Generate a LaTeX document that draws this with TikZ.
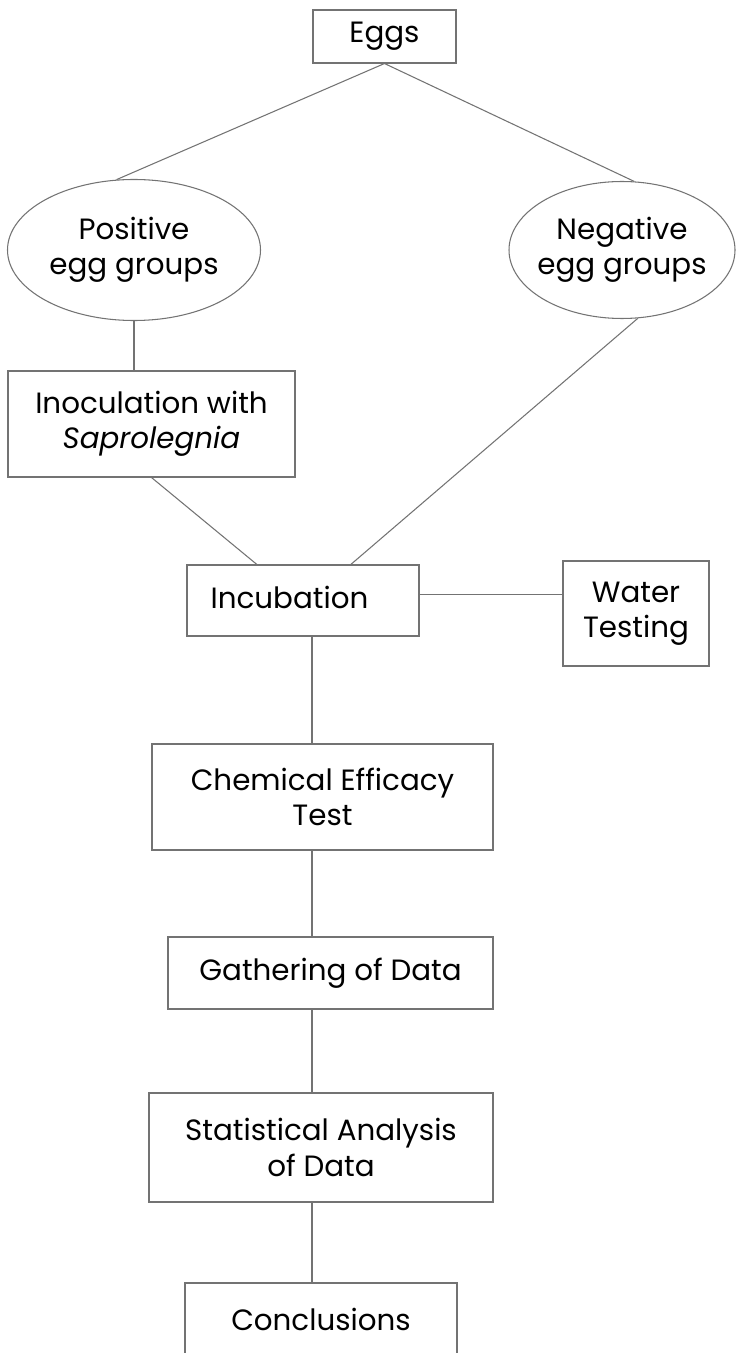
\documentclass[tikz,border=0pt]{standalone}
\usepackage{fontspec}
\setmainfont{Poppins}
\usetikzlibrary{shapes.geometric}
\definecolor{linegray}{gray}{0.45}
\tikzset{
	flowbox/.style={rectangle, draw=linegray, line width=0.6pt, align=center, inner sep=0pt, font=\fontsize{16.7}{20}\selectfont},
	groupnode/.style={ellipse, draw=linegray, line width=0.6pt, align=center, inner xsep=-0.4cm, inner ysep=0pt, font=\fontsize{16.7}{20}\selectfont},
	link/.style={draw=linegray, line width=0.6pt}
}

\begin{document}
\begin{tikzpicture}
			\useasboundingbox (0,0) rectangle (14.74,-27.06);
			\clip (0,0) rectangle (14.74,-27.06);
			\fill[white] (0,0) rectangle (14.74,-27.06);
			
			\node[flowbox, minimum width=2.86cm, minimum height=1.06cm] (eggs) at (7.69,-0.73) {Eggs};
			\node[groupnode, minimum width=5.06cm, minimum height=2.82cm] (pos) at (2.68,-5.00) {Positive\\egg groups};
			\node[groupnode, minimum width=4.52cm, minimum height=2.74cm] (neg) at (12.44,-5.00) {Negative\\egg groups};
			\node[flowbox, minimum width=5.74cm, minimum height=2.12cm] (inoc) at (3.03,-8.48) {Inoculation with\\\textit{Saprolegnia}};
			\node[flowbox, minimum width=4.64cm, minimum height=1.42cm] (incub) at (6.06,-12.01) {\raisebox{0.14cm}{Incubation}\hspace{0.54cm}};
			\node[flowbox, minimum width=2.92cm, minimum height=2.10cm] (water) at (12.72,-12.27) {Water\\Testing};
			\node[flowbox, minimum width=6.82cm, minimum height=2.12cm] (chem) at (6.45,-15.94) {Chemical Efficacy\\Test};
			\node[flowbox, minimum width=6.50cm, minimum height=1.44cm] (gather) at (6.61,-19.46) {Gathering of Data};
			\node[flowbox, minimum width=6.88cm, minimum height=2.18cm] (stat) at (6.42,-22.95) {Statistical Analysis\\of Data};
			\node[flowbox, minimum width=5.44cm, minimum height=1.44cm] (concl) at (6.42,-26.38) {Conclusions};
			
			\coordinate (spine) at (6.24,0);
			
			\draw[link] (eggs.south) -- (pos.104);
			\draw[link] (eggs.south) -- (neg.80);
			\draw[link] (pos.south) -- (pos.south |- inoc.north);
			\draw[link] (inoc.south) -- (incub.142);
			\draw[link] (neg.-77) -- (incub.37);
			\draw[link] (incub.3) -- (incub.3 -| water.west);
			\draw[link] (incub.south -| spine) -- (chem.north -| spine);
			\draw[link] (chem.south -| spine) -- (gather.north -| spine);
			\draw[link] (gather.south -| spine) -- (stat.north -| spine);
			\draw[link] (stat.south -| spine) -- (concl.north -| spine);
		\end{tikzpicture}
\end{document}
